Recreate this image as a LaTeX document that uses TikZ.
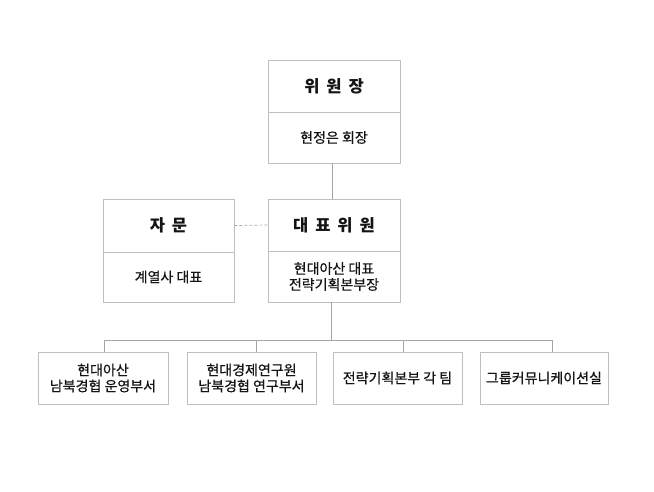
\documentclass[tikz,border=0pt]{standalone}
\usepackage{fontspec}
\setmainfont{Noto Sans CJK KR}
\newfontfamily\regfont[FakeBold=0.6]{Noto Sans CJK KR}
\newcommand{\gap}{\hspace{0.42em}}
\definecolor{boxline}{HTML}{BFBFBF}
\definecolor{connline}{HTML}{A6A6A6}
\definecolor{txt}{HTML}{141414}
\tikzset{
  cell/.style={draw=boxline, line width=0.9pt, fill=white, text=txt, inner sep=0pt, align=center, font=\regfont\fontsize{14}{16}\selectfont},
  titlecell/.style={cell, font=\fontsize{16.5}{19}\bfseries\selectfont},
  conn/.style={draw=connline, line width=0.9pt},
  dashconn/.style={draw=connline, line width=0.7pt, dash pattern=on 3pt off 2pt}
}
\begin{document}
\begin{tikzpicture}[x=1pt,y=-1pt]
\useasboundingbox (0,0) rectangle (654,491);
% top
\node[titlecell, minimum width=132pt, minimum height=52pt] (chairT) at (334,86) {위\gap 원\gap 장};
\node[cell, minimum width=132pt, minimum height=51pt] (chairS) at (334,137.5) {현정은 회장};
% middle
\node[titlecell, minimum width=132pt, minimum height=52pt] (repT) at (334,225) {대\gap 표\gap 위\gap 원};
\node[cell, minimum width=132pt, minimum height=51pt] (repS) at (334,276.5) {현대아산 대표\\전략기획본부장};
% left
\node[titlecell, minimum width=131pt, minimum height=53pt] (advT) at (168.5,225.5) {자\gap 문};
\node[cell, minimum width=131pt, minimum height=50pt] (advS) at (168.5,277) {계열사 대표};
% bottom
\node[cell, minimum width=130pt, minimum height=52pt] (b1) at (103,378) {현대아산\\남북경협 운영부서};
\node[cell, minimum width=129pt, minimum height=52pt] (b2) at (251.5,378) {현대경제연구원\\남북경협 연구부서};
\node[cell, minimum width=129pt, minimum height=52pt] (b3) at (397.5,378) {전략기획본부 각 팀};
\node[cell, minimum width=128pt, minimum height=52pt] (b4) at (544,378) {그룹커뮤니케이션실};
% connectors
\draw[conn] ([xshift=-2pt]chairS.south) -- ([xshift=-2pt]repT.north);
\draw[dashconn] (advT.east) -- (repT.west);
\coordinate (hub) at ([xshift=-2.5pt,yshift=-38pt]repS.south);
\draw[conn] ([xshift=-2.5pt]repS.south) -- (hub);
\draw[conn] ([xshift=1pt]b1.north) |- (hub);
\draw[conn] ([xshift=8pt]b4.north) |- (hub);
\draw[conn] ([xshift=4.5pt]b2.north) -- ([xshift=4.5pt]b2.north |- hub);
\draw[conn] ([xshift=5.5pt]b3.north) -- ([xshift=5.5pt]b3.north |- hub);
\end{tikzpicture}
\end{document}
